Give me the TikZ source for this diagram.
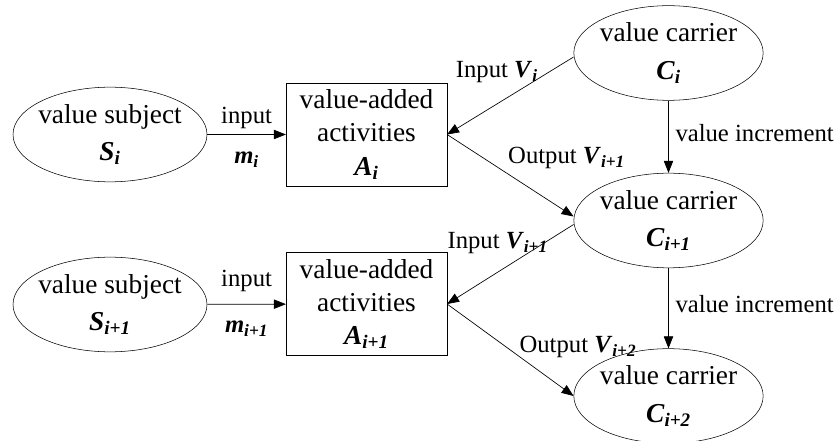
\documentclass[tikz,border=0pt]{standalone}
\usepackage{fontspec}
\setmainfont{Liberation Serif}
\usetikzlibrary{shapes.geometric, arrows.meta}

\newcommand{\vsym}[2]{\textbf{\textit{#1}\textsubscript{\textit{#2}}}}

\tikzset{
    oval/.style={draw, ellipse, inner sep=0pt, minimum width=#1, minimum height=71pt},
    ovaltext/.style={align=center, font=\fontsize{20.5}{28}\selectfont},
    actbox/.style={draw, rectangle, inner sep=0pt, minimum width=120.5pt, minimum height=77pt,
        align=center, font=\fontsize{20.5}{25}\selectfont},
    flow/.style={-{Triangle[length=9pt,width=7pt]}, line width=0.5pt},
    lab/.style={font=\fontsize{18.5}{22}\selectfont, inner sep=1pt}
}

\begin{document}
\begin{tikzpicture}[x=0.75pt, y=-0.75pt]
    \useasboundingbox (0,0) rectangle (835,441);

    % value subjects and value-added activities
    \node[oval=145.5pt, label={[ovaltext]center:{value subject\\\vsym{S}{i}}}] (S1) at (110,134.5) {};
    \node[oval=145.5pt, label={[ovaltext]center:{value subject\\\vsym{S}{i+1}}}] (S2) at (110,304.5) {};
    \node[actbox] (A1) at (366.5,134.5) {value-added\\activities\\\vsym{A}{i}};
    \node[actbox] (A2) at (366.5,304) {value-added\\activities\\\vsym{A}{i+1}};

    % value carriers
    \foreach \n/\y/\s in {1/53/i, 2/220.5/i+1, 3/396/i+2}{
        \node[oval=142pt, label={[ovaltext]center:{value carrier\\\vsym{C}{\s}}}] (C\n) at (668.5,\y) {};
    }

    % inputs of the subjects
    \draw[flow] (S1) -- (A1)
        node[lab, midway, anchor=base, yshift=8.5pt] {input}
        node[lab, midway, anchor=base, yshift=-22pt] {\vsym{m}{i}};
    \draw[flow] (S2) -- (A2)
        node[lab, midway, anchor=base, yshift=13pt] {input}
        node[lab, midway, anchor=base, yshift=-21.5pt] {\vsym{m}{i+1}};

    % carriers in and out of the activities
    \draw[flow] ([yshift=-3pt]C1.west) -- (A1.east)
        node[lab, pos=.27, anchor=east, yshift=4.5pt] {Input \vsym{V}{i}};
    \draw[flow] (A1.east) -- ([yshift=3pt]C2.west)
        node[lab, pos=.47, anchor=west, yshift=11pt] {Output \vsym{V}{i+1}};
    \draw[flow] ([yshift=-3pt]C2.west) -- (A2.east)
        node[lab, pos=.19, anchor=east, yshift=-2.5pt] {Input \vsym{V}{i+1}};
    \draw[flow] (A2.east) -- (C3.west)
        node[lab, pos=.56, anchor=west, yshift=6.4pt] {Output \vsym{V}{i+2}};

    % value increments
    \draw[flow] (C1) -- (C2) node[lab, pos=.45, right=4pt] {value increment};
    \draw[flow] (C2) -- (C3) node[lab, pos=.45, right=4pt] {value increment};
\end{tikzpicture}
\end{document}
